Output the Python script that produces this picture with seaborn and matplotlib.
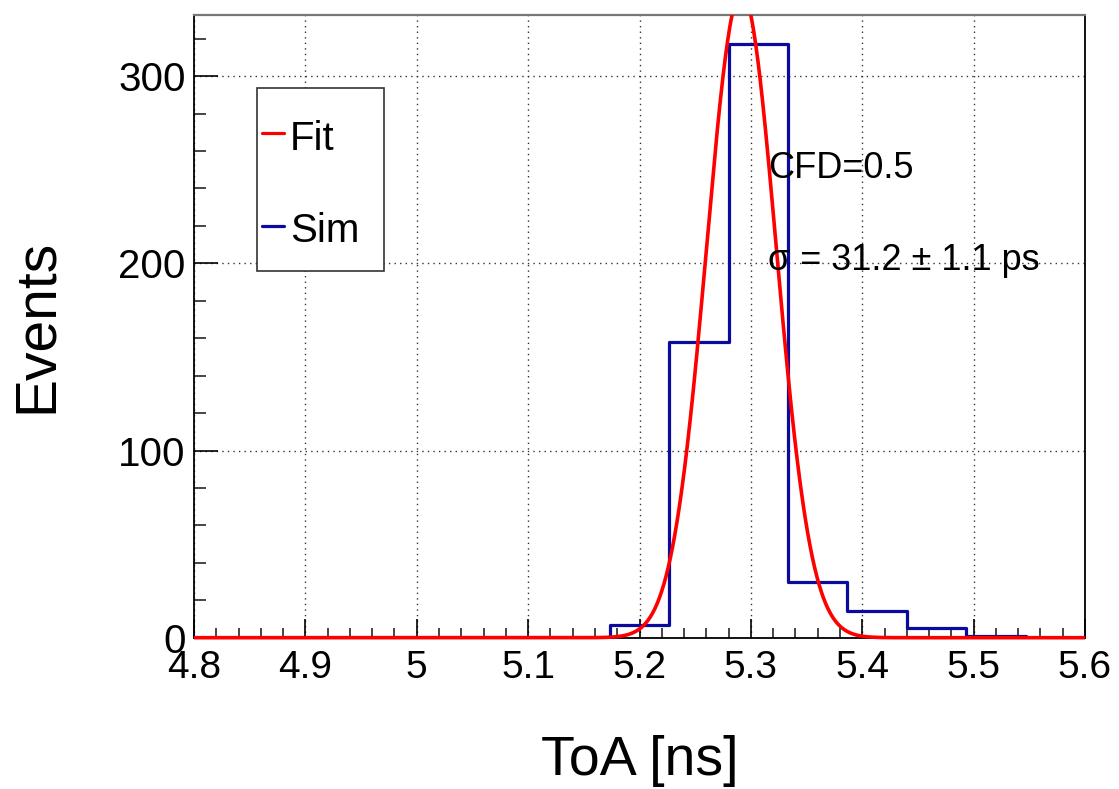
import numpy as np
import pandas as pd
import matplotlib
matplotlib.use("Agg")
import matplotlib.pyplot as plt
from matplotlib.patches import Rectangle
from matplotlib.lines import Line2D
from matplotlib.ticker import FixedLocator, MultipleLocator, FixedFormatter
from matplotlib.transforms import Bbox, TransformedBbox
import seaborn as sns

# Histogram of time of arrival: 15 bins between 4.8 and 5.6 ns
toa_range = (4.8, 5.6)
n_bins = 15
counts = [0, 0, 0, 0, 0, 0, 0, 7, 158, 317, 30, 14, 5, 1, 0]

# Gaussian fit parameters
fit_mean = 5.2915      # ns
fit_sigma = 0.0312     # ns (31.2 ps)
fit_amplitude = 345.0  # events

x_ticks = [4.8, 4.9, 5.0, 5.1, 5.2, 5.3, 5.4, 5.5, 5.6]
x_tick_labels = ["4.8", "4.9", "5", "5.1", "5.2", "5.3", "5.4", "5.5", "5.6"]
y_ticks = [0, 100, 200, 300]
y_tick_labels = ["0", "100", "200", "300"]

cfd_text = "CFD=0.5"
sigma_text = "σ = 31.2 ± 1.1 ps"
legend_labels = ["Fit", "Sim"]

RED = "#ff0000"
BLUE = "#0a0a9c"

sns.set_theme(style="ticks")
plt.rcParams["font.family"] = ["Liberation Sans", "DejaVu Sans"]

fig = plt.figure(figsize=(11.19, 7.89), dpi=100)
ax = fig.add_axes([0.17337, 0.19176, 0.79625, 0.78961])

bin_edges = np.linspace(toa_range[0], toa_range[1], n_bins + 1)
hist_df = pd.DataFrame({
    "toa": (bin_edges[:-1] + bin_edges[1:]) / 2,
    "events": counts,
})
sns.histplot(data=hist_df, x="toa", weights="events", bins=n_bins,
             binrange=toa_range, element="step", fill=False, color=BLUE,
             linewidth=2.3, ax=ax, zorder=3)

xs = np.linspace(toa_range[0], toa_range[1], 1200)
fit_df = pd.DataFrame({
    "toa": xs,
    "events": fit_amplitude * np.exp(-0.5 * ((xs - fit_mean) / fit_sigma) ** 2),
})
sns.lineplot(data=fit_df, x="toa", y="events", color=RED, linewidth=2.6,
             ax=ax, zorder=4)
fit_line = ax.lines[-1]
fit_line.set_clip_box(TransformedBbox(Bbox([[0, -0.02], [1, 1]]), ax.transAxes))

ax.set_xlim(*toa_range)
ax.set_ylim(0, 1.05 * max(counts))

# Axes frame, ticks and grid in a ROOT-like style
for side in ["left", "bottom", "right"]:
    ax.spines[side].set_color("black")
    ax.spines[side].set_linewidth(1.3)
ax.spines["top"].set_color("#777777")
ax.spines["top"].set_linewidth(1.6)

ax.xaxis.set_major_locator(FixedLocator(x_ticks))
ax.xaxis.set_major_formatter(FixedFormatter(x_tick_labels))
ax.xaxis.set_minor_locator(MultipleLocator(0.02))
ax.yaxis.set_major_locator(FixedLocator(y_ticks))
ax.yaxis.set_major_formatter(FixedFormatter(y_tick_labels))
ax.yaxis.set_minor_locator(MultipleLocator(20))

ax.tick_params(axis="x", which="major", direction="in", length=14, width=1.2,
               labelsize=28, pad=9, colors="black", top=False)
ax.tick_params(axis="x", which="minor", direction="in", length=7, width=1.2,
               top=False)
ax.tick_params(axis="y", which="major", direction="in", length=17, width=1.2,
               labelsize=29, pad=6, colors="black", right=False)
ax.tick_params(axis="y", which="minor", direction="in", length=8.5, width=1.2,
               right=False)

ax.grid(True, which="major", color="#333333", linestyle=(0, (1, 3)),
        linewidth=1.0)
ax.set_axisbelow(True)

ax.set_xlabel("ToA [ns]", fontsize=40, color="black")
ax.set_ylabel("Events", fontsize=41, color="black")
ax.xaxis.set_label_coords(0.5, -0.156)
ax.yaxis.set_label_coords(-0.146, 0.5)

# Annotations
ax.text(0.644, 0.738, cfd_text, transform=ax.transAxes, fontsize=26,
        va="baseline", ha="left", color="black", zorder=5)
ax.text(0.644, 0.590, sigma_text, transform=ax.transAxes, fontsize=26,
        va="baseline", ha="left", color="black", zorder=5)

# Legend box
ax.add_patch(Rectangle((0.0710, 0.5886), 0.2136 - 0.0710, 0.8819 - 0.5886,
                       transform=ax.transAxes, facecolor="white",
                       edgecolor="#333333", linewidth=1.2, zorder=6))
for y_line, y_text, color, label in [(0.8096, 0.7827, RED, legend_labels[0]),
                                      (0.6608, 0.6350, BLUE, legend_labels[1])]:
    ax.add_line(Line2D([0.0763, 0.1010], [y_line, y_line], transform=ax.transAxes,
                       color=color, linewidth=2.3, zorder=7))
    ax.text(0.1077, y_text, label, transform=ax.transAxes, fontsize=29,
            va="baseline", ha="left", color="black", zorder=7)

fig.savefig("out.png", dpi=100, facecolor="white")
